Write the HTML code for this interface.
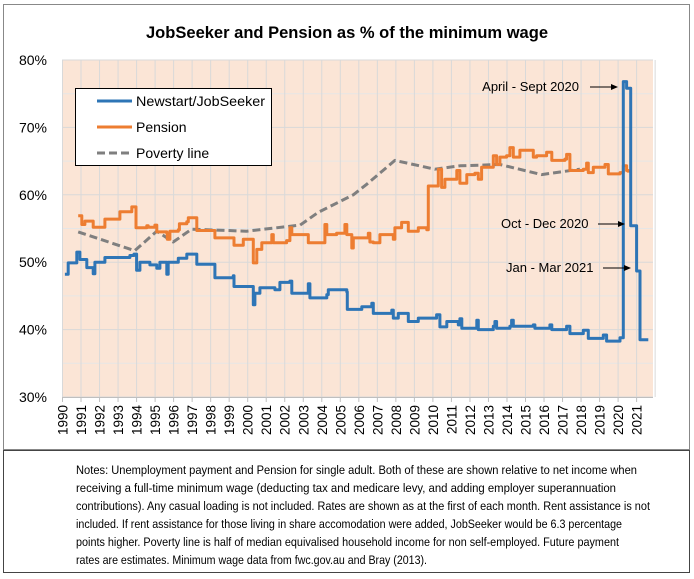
<!DOCTYPE html>
<html><head><meta charset="utf-8"><style>
html,body{margin:0;padding:0;background:#fff;}
svg{display:block;font-family:"Liberation Sans",sans-serif;}
</style></head><body>
<svg id="chart" width="694" height="579" viewBox="0 0 694 579">
<rect x="3.5" y="4.5" width="686" height="445" fill="#fff" stroke="#888"/>
<text x="347" y="38" text-anchor="middle" font-size="16.5" font-weight="bold" textLength="402" lengthAdjust="spacingAndGlyphs" fill="#000">JobSeeker and Pension as % of the minimum wage</text>
<rect x="62" y="60" width="591" height="337" fill="#FBE5D6"/>
<g id="grid"></g>
<g id="yticks"></g>
<g id="xticks"></g>
<g id="series"></g>
<g>
<rect x="75.5" y="88.5" width="196" height="77" fill="#fff" stroke="#000"/>
<line x1="97" y1="101" x2="132" y2="101" stroke="#2E75B6" stroke-width="3"/>
<text x="136" y="106" font-size="14" textLength="129" lengthAdjust="spacingAndGlyphs">Newstart/JobSeeker</text>
<line x1="97" y1="127" x2="132" y2="127" stroke="#ED7D31" stroke-width="3"/>
<text x="136" y="132" font-size="14">Pension</text>
<line x1="97" y1="153" x2="132" y2="153" stroke="#7F7F7F" stroke-width="3" stroke-dasharray="8,4"/>
<text x="136" y="158" font-size="14">Poverty line</text>
</g>
<g font-size="13" fill="#000">
<text x="579" y="91" text-anchor="end">April - Sept 2020</text>
<text x="501" y="228" text-anchor="start">Oct - Dec 2020</text>
<text x="506" y="272" text-anchor="start">Jan - Mar 2021</text>
<line x1="590" y1="87" x2="613" y2="87" stroke="#000"/>
<polygon points="618,87 611,84 611,90" fill="#000"/>
<line x1="598" y1="224" x2="620" y2="224" stroke="#000"/>
<polygon points="625,224 618,221 618,227" fill="#000"/>
<line x1="603" y1="268" x2="626" y2="268" stroke="#000"/>
<polygon points="631,268 624,265 624,271" fill="#000"/>
</g>
<rect x="3.5" y="450.5" width="686" height="122" fill="#fff" stroke="#444"/>
<g font-size="12.3" fill="#000">
<text x="76" y="474" textLength="561" lengthAdjust="spacingAndGlyphs">Notes: Unemployment payment and Pension for single adult. Both of these are shown relative to net income when</text>
<text x="76" y="492" textLength="540" lengthAdjust="spacingAndGlyphs">receiving a full-time minimum wage (deducting tax and medicare levy, and adding employer superannuation</text>
<text x="76" y="510" textLength="574" lengthAdjust="spacingAndGlyphs">contributions). Any casual loading is not included. Rates are shown as at the first of each month. Rent assistance is not</text>
<text x="76" y="528" textLength="546" lengthAdjust="spacingAndGlyphs">included. If rent assistance for those living in share accomodation were added, JobSeeker would be 6.3 percentage</text>
<text x="76" y="546" textLength="543" lengthAdjust="spacingAndGlyphs">points higher. Poverty line is half of median equivalised household income for non self-employed. Future payment</text>
<text x="76" y="564" textLength="351" lengthAdjust="spacingAndGlyphs">rates are estimates. Minimum wage data from fwc.gov.au and Bray (2013).</text>
</g>
</svg>
<script>
const yTicks=[30,40,50,60,70,80];
const xYears=[1990,1991,1992,1993,1994,1995,1996,1997,1998,1999,2000,2001,2002,2003,2004,2005,2006,2007,2008,2009,2010,2011,2012,2013,2014,2015,2016,2017,2018,2019,2020,2021];
const blueT=[1990.13,1990.31,1990.77,1990.94,1991.31,1991.66,1991.75,1992.29,1993.64,1993.86,1994.0,1994.18,1994.72,1995.09,1995.26,1995.63,1995.71,1996.25,1996.71,1997.15,1997.25,1998.14,1998.23,1999.22,1999.26,2000.22,2000.30,2000.39,2000.66,2001.47,2001.74,2002.28,2002.38,2003.19,2003.27,2003.36,2004.27,2004.35,2005.35,2005.38,2006.16,2006.7,2006.78,2007.78,2007.86,2008.13,2008.59,2008.67,2009.21,2010.2,2010.38,2010.75,2011.37,2011.46,2011.56,2012.37,2012.45,2013.26,2013.35,2013.44,2014.16,2014.25,2014.34,2015.42,2015.51,2016.32,2016.42,2017.22,2017.4,2018.12,2018.39,2019.2,2019.38,2020.1,2020.2,2020.28,2020.37,2020.46,2020.55,2020.68,2020.82,2021.0,2021.09,2021.18,2021.63];
const blueV=[48.2,49.9,51.5,50.4,49.2,48.3,50.0,50.7,51.0,51.2,48.8,50.0,49.6,49.1,50.0,48.2,50.0,50.6,51.2,51.2,49.7,49.7,47.7,48.0,46.4,46.4,43.7,45.4,46.2,45.9,47.0,47.2,45.4,45.4,46.8,44.7,45.2,45.9,45.6,43.0,43.4,43.9,42.4,42.9,41.7,42.4,42.4,41.2,41.7,42.2,40.4,41.2,40.7,41.6,40.2,41.4,40.0,40.5,41.2,40.2,40.5,41.4,40.5,40.7,40.2,40.7,40.0,40.5,39.4,39.9,38.7,39.2,38.3,38.8,38.8,76.8,76.8,75.8,75.8,55.4,55.4,48.7,48.7,38.5,38.5];
const orangeT=[1990.85,1991.04,1991.21,1991.58,1991.66,1992.2,1992.29,1993.01,1993.1,1993.64,1993.74,1993.86,1993.97,1994.55,1994.63,1994.99,1995.09,1995.63,1995.66,1995.8,1996.25,1996.31,1996.71,1996.79,1997.15,1997.25,1998.14,1998.23,1999.22,1999.26,1999.68,1999.76,2000.16,2000.30,2000.49,2000.66,2000.76,2001.2,2001.3,2001.38,2002.1,2002.28,2002.38,2003.19,2003.27,2003.9,2004.17,2004.27,2004.8,2005.25,2005.35,2005.62,2005.7,2006.51,2006.6,2006.78,2007.14,2007.68,2007.86,2007.95,2008.31,2008.67,2009.21,2009.67,2009.75,2010.11,2010.29,2010.47,2010.65,2011.19,2011.29,2011.46,2011.83,2012.27,2012.45,2012.63,2013.17,2013.26,2013.44,2013.62,2013.98,2014.16,2014.34,2014.7,2015.15,2015.42,2015.6,2016.14,2016.42,2017.13,2017.22,2017.4,2018.12,2018.3,2018.39,2018.66,2019.29,2019.47,2020.1,2020.28,2020.46,2020.55];
const orangeV=[56.9,55.6,56.1,56.1,55.2,55.2,56.4,56.4,57.5,57.5,58.2,58.2,55.1,55.4,55.2,55.5,54.5,54.3,53.4,54.6,54.8,55.7,56.0,56.6,56.6,54.7,54.7,53.6,53.6,52.5,52.5,53.4,53.4,49.9,51.9,51.9,52.9,52.9,54.1,52.9,53.2,55.1,54.1,54.1,52.9,52.9,55.6,54.1,54.3,55.6,54.1,52.1,53.6,54.3,53.0,52.9,54.1,54.1,53.4,55.1,55.9,54.6,55.1,54.8,61.3,61.3,63.8,61.1,62.3,62.3,63.6,61.7,63.0,63.2,62.3,64.1,64.1,65.8,64.5,65.6,65.8,67.0,65.6,66.6,66.6,65.6,65.8,66.3,65.1,65.3,66.0,63.6,63.8,64.7,63.3,64.1,64.5,63.1,63.3,64.3,63.6,63.3];
const povertyT=[1990.85,1993.9,1995.09,1995.98,1996.97,1999.94,2002.83,2003.81,2005.7,2006.4,2007.95,2010.11,2011.46,2013.62,2015.87,2017.94];
const povertyV=[54.5,51.7,54.6,53.0,54.9,54.6,55.5,57.4,60.0,61.5,65.1,63.8,64.3,64.5,63.0,63.8];

const NS='http://www.w3.org/2000/svg';
const X0=62.5,XW=18.52,Y0=60,YH=6.74;
function xs(t){return X0+(t-1990)*XW;}
function ys(v){return Y0+(80-v)*YH;}
function mk(tag,attrs,parent){const e=document.createElementNS(NS,tag);for(const k in attrs)e.setAttribute(k,attrs[k]);parent.appendChild(e);return e;}
const grid=document.getElementById('grid'),yt=document.getElementById('yticks'),xt=document.getElementById('xticks'),ser=document.getElementById('series');
for(let v=30;v<=80;v+=5){
  const l=mk('line',{x1:62,x2:653,y1:ys(v),y2:ys(v),stroke:(v%10===0?'#d9d9d9':'#e6e6e6'),'stroke-width':1},grid);
  
  
}
for(let i=0;i<=32;i++){
  const l=mk('line',{x1:xs(1990+i),x2:xs(1990+i),y1:60,y2:397,stroke:'#d9d9d9','stroke-width':1},grid);
  
  
}
const ax=mk('line',{x1:62,x2:653,y1:397.5,y2:397.5,stroke:'#bfbfbf'},grid);


yTicks.forEach(v=>{
  const t=mk('text',{x:47,y:ys(v)+5,'text-anchor':'end','font-size':14,fill:'#000'},yt);
  t.textContent=v+'%';
  
  
});
xYears.forEach(y=>{
  const x=xs(y);
  const tk=mk('line',{x1:x,x2:x,y1:397,y2:402,stroke:'#bfbfbf'},xt);
  
  
  const t=mk('text',{x:0,y:0,'text-anchor':'end','font-size':13.5,fill:'#000',transform:'translate('+(x+5)+',405) rotate(-90)'},xt);
  t.textContent=y;
  
  
});
function line(T,V,color,dash,name,step){
  const arr=[];
  T.forEach((t,i)=>{
    if(step&&i>0)arr.push(xs(t).toFixed(1)+','+ys(V[i-1]).toFixed(1));
    arr.push(xs(t).toFixed(1)+','+ys(V[i]).toFixed(1));
  });
  const a={points:arr.join(' '),fill:'none',stroke:color,'stroke-width':3,'stroke-linejoin':'round'};
  if(dash)a['stroke-dasharray']=dash;
  const p=mk('polyline',a,ser);
  
  
}
line(povertyT,povertyV,'#7F7F7F','8,4','poverty-line-series',false);
line(orangeT,orangeV,'#ED7D31',null,'pension-series',true);
line(blueT,blueV,'#2E75B6',null,'newstart-jobseeker-series',true);
</script>
</body></html>
